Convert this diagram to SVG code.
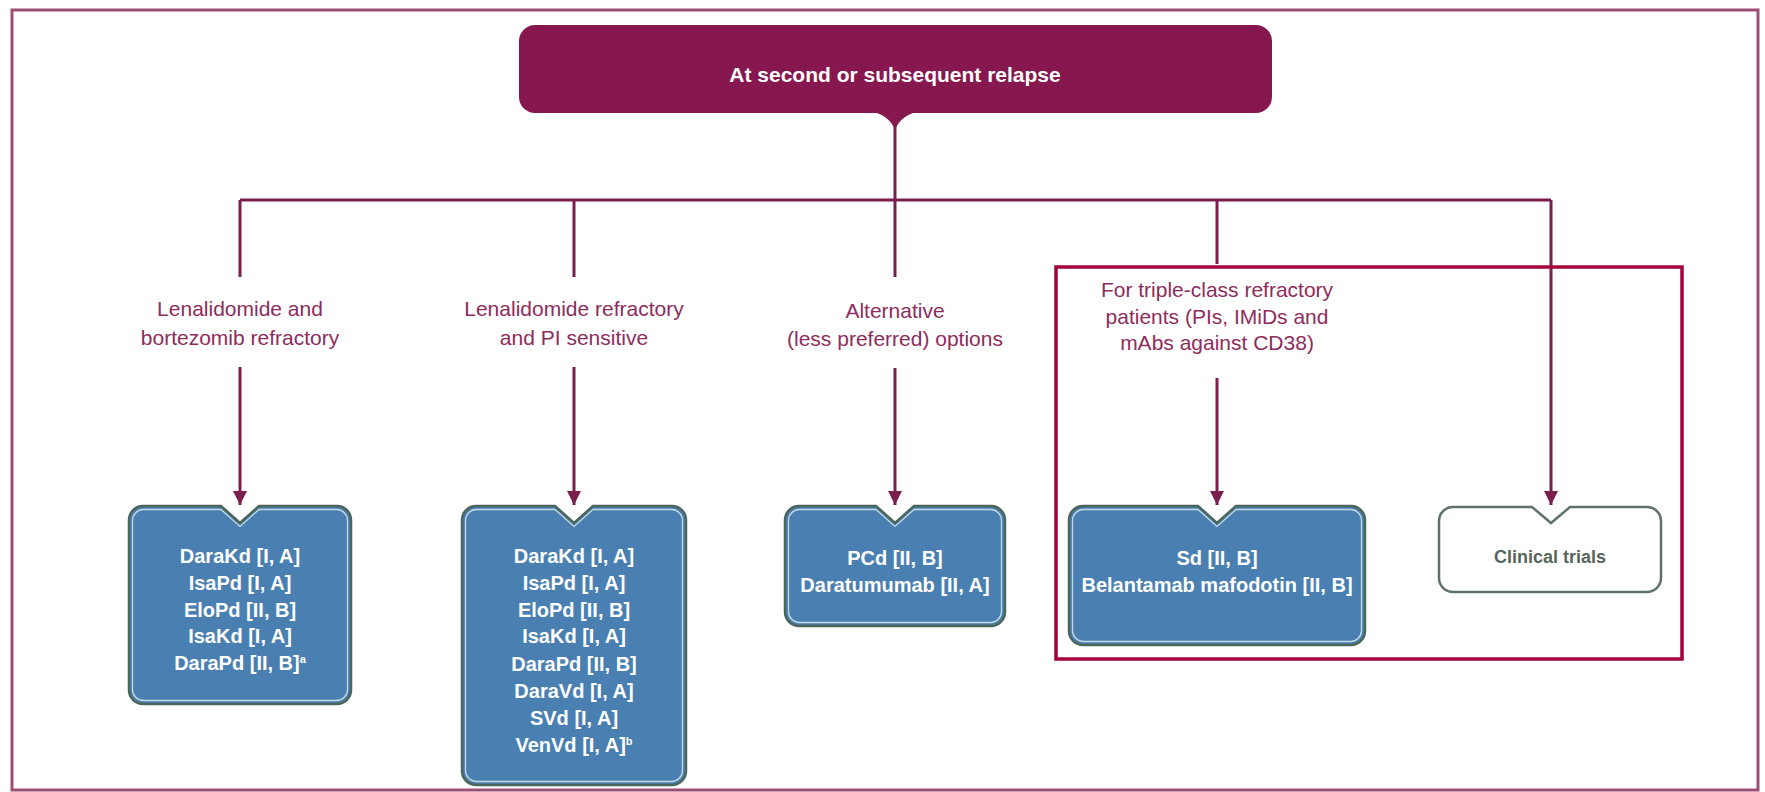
<svg xmlns="http://www.w3.org/2000/svg" width="1765" height="792" viewBox="0 0 1765 792">
<style>
.lbl{font-family:"Liberation Sans",Arial,sans-serif;font-size:21px;fill:#8e2c5c;text-anchor:middle}
.bt{font-family:"Liberation Sans",Arial,sans-serif;font-size:20px;font-weight:bold;fill:#ffffff;text-anchor:middle}
.ttl{font-family:"Liberation Sans",Arial,sans-serif;font-size:21px;font-weight:bold;fill:#ffffff;text-anchor:middle}
.ct{font-family:"Liberation Sans",Arial,sans-serif;font-size:18px;font-weight:bold;fill:#56665c;text-anchor:middle}
.box{fill:#4a7fb1;stroke:#4b665c;stroke-width:2.5}
.inner{fill:none;stroke:#c4dae4;stroke-width:1.3}
.con{fill:none;stroke:#7a1e4c;stroke-width:3}
.sup{font-size:11px}
</style>
<defs>
<marker id="ah" markerUnits="userSpaceOnUse" markerWidth="14" markerHeight="14" refX="14" refY="7" orient="auto">
<path d="M0,0 L14,7 L0,14 Z" fill="#7a1e4c"/>
</marker>
</defs>
<rect x="0" y="0" width="1765" height="792" fill="#ffffff"/>
<rect id="frame" x="12" y="10" width="1746" height="780" fill="none" stroke="#9c4e77" stroke-width="3"/>

<g id="connectors">
<path class="con" d="M895,126 V200"/>
<path class="con" d="M240,200 H1551"/>
<path class="con" d="M240,200 V277"/>
<path class="con" d="M240,367 V505" marker-end="url(#ah)"/>
<path class="con" d="M574,200 V277"/>
<path class="con" d="M574,367 V505" marker-end="url(#ah)"/>
<path class="con" d="M895,200 V277"/>
<path class="con" d="M895,368 V505" marker-end="url(#ah)"/>
<path class="con" d="M1217,200 V264"/>
<path class="con" d="M1217,378 V505" marker-end="url(#ah)"/>
<path class="con" d="M1551,200 V505" marker-end="url(#ah)"/>
</g>

<g id="top">
<rect x="519" y="25" width="753" height="88" rx="16" fill="#86184f"/>
<path d="M868,111 Q889,114 895,130 Q901,114 922,111 Z" fill="#86184f"/>
<text class="ttl" x="895" y="82">At second or subsequent relapse</text>
</g>

<g id="label1">
<text class="lbl" x="240" y="316">Lenalidomide and</text>
<text class="lbl" x="240" y="345">bortezomib refractory</text>
</g>
<g id="label2">
<text class="lbl" x="574" y="316">Lenalidomide refractory</text>
<text class="lbl" x="574" y="345">and PI sensitive</text>
</g>
<g id="label3">
<text class="lbl" x="895" y="318">Alternative</text>
<text class="lbl" x="895" y="346">(less preferred) options</text>
</g>

<g id="highlight">
<rect x="1056" y="267" width="626" height="392" fill="none" stroke="#a3003c" stroke-width="3.5"/>
</g>

<g id="label4">
<text class="lbl" x="1217" y="297">For triple-class refractory</text>
<text class="lbl" x="1217" y="324">patients (PIs, IMiDs and</text>
<text class="lbl" x="1217" y="350">mAbs against CD38)</text>
</g>

<g id="box1">
<path class="box" d="M143,506 H221 L240,523 L259,506 H337 A14,14 0 0 1 351,520 V690 A14,14 0 0 1 337,704 H143 A14,14 0 0 1 129,690 V520 A14,14 0 0 1 143,506 Z"/>
<path class="inner" d="M143.5,509.5 H221 L240,526.5 L259,509.5 H336.5 A11,11 0 0 1 347.5,520.5 V689.5 A11,11 0 0 1 336.5,700.5 H143.5 A11,11 0 0 1 132.5,689.5 V520.5 A11,11 0 0 1 143.5,509.5 Z"/>
<text class="bt" x="240" y="563">DaraKd [I, A]</text>
<text class="bt" x="240" y="590">IsaPd [I, A]</text>
<text class="bt" x="240" y="617">EloPd [II, B]</text>
<text class="bt" x="240" y="643">IsaKd [I, A]</text>
<text class="bt" x="240" y="670">DaraPd [II, B]<tspan class="sup" dy="-7">a</tspan></text>
</g>

<g id="box2">
<path class="box" d="M476,506 H555 L574,523 L593,506 H672 A14,14 0 0 1 686,520 V771 A14,14 0 0 1 672,785 H476 A14,14 0 0 1 462,771 V520 A14,14 0 0 1 476,506 Z"/>
<path class="inner" d="M476.5,509.5 H555 L574,526.5 L593,509.5 H671.5 A11,11 0 0 1 682.5,520.5 V770.5 A11,11 0 0 1 671.5,781.5 H476.5 A11,11 0 0 1 465.5,770.5 V520.5 A11,11 0 0 1 476.5,509.5 Z"/>
<text class="bt" x="574" y="563">DaraKd [I, A]</text>
<text class="bt" x="574" y="590">IsaPd [I, A]</text>
<text class="bt" x="574" y="617">EloPd [II, B]</text>
<text class="bt" x="574" y="643">IsaKd [I, A]</text>
<text class="bt" x="574" y="671">DaraPd [II, B]</text>
<text class="bt" x="574" y="698">DaraVd [I, A]</text>
<text class="bt" x="574" y="725">SVd [I, A]</text>
<text class="bt" x="574" y="752">VenVd [I, A]<tspan class="sup" dy="-7">b</tspan></text>
</g>

<g id="box3">
<path class="box" d="M799,506 H876 L895,523 L914,506 H991 A14,14 0 0 1 1005,520 V612 A14,14 0 0 1 991,626 H799 A14,14 0 0 1 785,612 V520 A14,14 0 0 1 799,506 Z"/>
<path class="inner" d="M799.5,509.5 H876 L895,526.5 L914,509.5 H990.5 A11,11 0 0 1 1001.5,520.5 V611.5 A11,11 0 0 1 990.5,622.5 H799.5 A11,11 0 0 1 788.5,611.5 V520.5 A11,11 0 0 1 799.5,509.5 Z"/>
<text class="bt" x="895" y="565">PCd [II, B]</text>
<text class="bt" x="895" y="592">Daratumumab [II, A]</text>
</g>

<g id="box4">
<path class="box" d="M1083,506 H1198 L1217,523 L1236,506 H1351 A14,14 0 0 1 1365,520 V631 A14,14 0 0 1 1351,645 H1083 A14,14 0 0 1 1069,631 V520 A14,14 0 0 1 1083,506 Z"/>
<path class="inner" d="M1083.5,509.5 H1198 L1217,526.5 L1236,509.5 H1350.5 A11,11 0 0 1 1361.5,520.5 V630.5 A11,11 0 0 1 1350.5,641.5 H1083.5 A11,11 0 0 1 1072.5,630.5 V520.5 A11,11 0 0 1 1083.5,509.5 Z"/>
<text class="bt" x="1217" y="565">Sd [II, B]</text>
<text class="bt" x="1217" y="592">Belantamab mafodotin [II, B]</text>
</g>

<g id="box5">
<path d="M1453,507 H1532 L1551,523 L1570,507 H1647 A14,14 0 0 1 1661,521 V578 A14,14 0 0 1 1647,592 H1453 A14,14 0 0 1 1439,578 V521 A14,14 0 0 1 1453,507 Z" fill="#ffffff" stroke="#5f7267" stroke-width="2.5"/>
<text class="ct" x="1550" y="563">Clinical trials</text>
</g>
</svg>
